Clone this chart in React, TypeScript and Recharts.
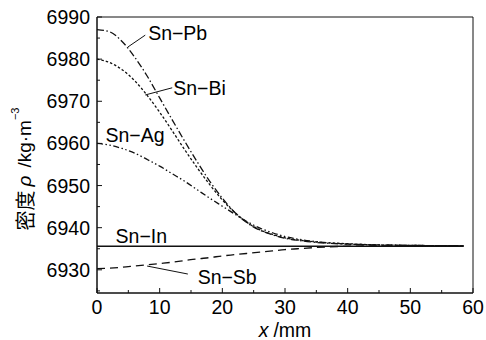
import React from 'react';
import { LineChart, Line, XAxis, YAxis, ReferenceArea, ReferenceLine, ReferenceDot } from 'recharts';

const xs = [0, 2, 4, 6, 8, 10, 12, 14, 16, 18, 20, 22, 24, 26, 28, 30, 32, 35, 40, 45, 50, 58.5];
const snPb = [6987, 6986.5, 6984.2, 6980.5, 6976, 6970.8, 6965.6, 6960.5, 6955.6, 6951, 6947, 6943.6, 6941.1, 6939.4, 6938.3, 6937.5, 6937, 6936.5, 6936.1, 6935.9, 6935.8, 6935.7];
const snBi = [6980, 6979.2, 6977.5, 6974.9, 6971.4, 6967.4, 6963, 6958.5, 6954.2, 6950.2, 6946.6, 6943.6, 6941.2, 6939.5, 6938.4, 6937.6, 6937.1, 6936.6, 6936.2, 6935.9, 6935.8, 6935.7];
const snAg = [6960, 6959.6, 6958.8, 6957.7, 6956.2, 6954.6, 6952.8, 6951, 6949, 6947, 6945.1, 6943.2, 6941.4, 6939.9, 6938.8, 6937.9, 6937.3, 6936.7, 6936.1, 6935.9, 6935.8, 6935.7];
const snIn = [6935.6, 6935.6, 6935.6, 6935.6, 6935.6, 6935.6, 6935.6, 6935.6, 6935.6, 6935.6, 6935.6, 6935.6, 6935.6, 6935.6, 6935.6, 6935.6, 6935.6, 6935.6, 6935.6, 6935.6, 6935.6, 6935.6];
const snSb = [6930.3, 6930.4, 6930.6, 6930.9, 6931.2, 6931.5, 6931.8, 6932.2, 6932.6, 6932.9, 6933.3, 6933.6, 6933.9, 6934.2, 6934.5, 6934.8, 6935, 6935.3, 6935.6, 6935.7, 6935.7, 6935.7];

const xTicks = [0, 5, 10, 15, 20, 25, 30, 35, 40, 45, 50, 55, 60];
const yTicks = [6925, 6930, 6935, 6940, 6945, 6950, 6955, 6960, 6965, 6970, 6975, 6980, 6985, 6990];

// label anchors and leader lines, in data units
const labels = [
  { text: 'Sn−Pb', x: 8.0, y: 6986.1 },
  { text: 'Sn−Bi', x: 12.0, y: 6973.2 },
  { text: 'Sn−Ag', x: 1.2, y: 6962 },
  { text: 'Sn−In', x: 2.8, y: 6937.9 },
  { text: 'Sn−Sb', x: 15.9, y: 6928.3 },
];
const leaders = [
  [{ x: 4.95, y: 6982.9 }, { x: 7.7, y: 6985.7 }],
  [{ x: 7.7, y: 6971.5 }, { x: 12, y: 6973.2 }],
  [{ x: 8, y: 6930.9 }, { x: 14.5, y: 6929.0 }],
];

const data = xs.map((x, i) => ({ x, pb: snPb[i], bi: snBi[i], ag: snAg[i], inn: snIn[i], sb: snSb[i] }));

const FONT = '"Liberation Sans", Arial, sans-serif';
const INK = '#111';
const FS = 19.5;

const XTick = (p: any) => {
  const v = p.payload.value;
  const major = v % 10 === 0;
  return (
    <g>
      <line x1={p.x} x2={p.x} y1={p.y} y2={p.y - (major ? 5 : 3)} stroke={INK} />
      {major && (
        <text x={p.x} y={p.y + 21} textAnchor="middle" fontSize={FS} fontFamily={FONT} fill="#000">
          {v}
        </text>
      )}
    </g>
  );
};

const YTick = (p: any) => {
  const v = p.payload.value;
  const major = v % 10 === 0;
  return (
    <g>
      <line x1={p.x} x2={p.x + (major ? 5 : 3)} y1={p.y} y2={p.y} stroke={INK} />
      {major && (
        <text x={p.x - 7} y={p.y + 7} textAnchor="end" fontSize={FS} fontFamily={FONT} fill="#000">
          {v}
        </text>
      )}
    </g>
  );
};

const YTitle = (p: any) => {
  const vb = p.viewBox;
  const cx = vb.x + 24;
  const cy = vb.y + vb.height / 2 + 14;
  return (
    <text transform={`translate(${cx},${cy}) rotate(-90)`} textAnchor="middle" dominantBaseline="central" fontSize={19} fontFamily={FONT} fill="#000">
      <tspan fontFamily='"Noto Sans CJK JP", sans-serif' fontSize={20}>密度</tspan>
      <tspan fontStyle="italic" dx={4}>ρ</tspan>
      <tspan dx={8}>/kg·m</tspan>
      <tspan fontSize={11} dy={-9}>−3</tspan>
    </text>
  );
};

const XTitle = (p: any) => {
  const vb = p.viewBox;
  return (
    <text x={vb.x + vb.width / 2} y={vb.y + 44} textAnchor="middle" fontSize={FS} fontFamily={FONT} fill="#000">
      <tspan fontStyle="italic">x</tspan>
      <tspan dx={5}>/mm</tspan>
    </text>
  );
};

const lineProps = { type: 'monotone' as const, stroke: INK, strokeWidth: 1.3, dot: false, isAnimationActive: false };

export default function App() {
  return (
    <div style={{ position: 'absolute', left: 0, top: 0, background: '#fff' }}>
      <LineChart width={486} height={340} data={data} margin={{ top: 17, right: 13, bottom: 0, left: 0 }}>
        <XAxis
          dataKey="x"
          type="number"
          domain={[0, 60]}
          ticks={xTicks}
          interval={0}
          tickSize={0}
          tickMargin={0}
          tickLine={false}
          tick={XTick}
          height={47}
          axisLine={{ stroke: INK }}
          label={XTitle}
        />
        <YAxis
          type="number"
          domain={[6924.5, 6990]}
          ticks={yTicks}
          interval={0}
          tickSize={0}
          tickMargin={0}
          tickLine={false}
          tick={YTick}
          width={97}
          axisLine={{ stroke: INK }}
          label={YTitle}
        />
        <ReferenceArea x1={0} x2={60} y1={6924.5} y2={6990} fill="none" stroke={INK} strokeWidth={1} />
        <Line dataKey="inn" {...lineProps} strokeWidth={1.6} />
        <Line dataKey="sb" {...lineProps} strokeDasharray="8 5" />
        <Line dataKey="ag" {...lineProps} strokeDasharray="6 2.5 1.5 2.5 1.5 2.5" />
        <Line dataKey="bi" {...lineProps} strokeDasharray="2.5 2" />
        <Line dataKey="pb" {...lineProps} strokeDasharray="7 2.5 1.5 2.5" />
        {leaders.map((seg, i) => (
          <ReferenceLine key={i} segment={seg} stroke={INK} strokeWidth={1} />
        ))}
        {labels.map((l) => (
          <ReferenceDot
            key={l.text}
            x={l.x}
            y={l.y}
            r={1}
            fill="none"
            stroke="none"
            label={{ value: l.text, position: 'right', offset: 0, fontSize: FS, fontFamily: FONT, fill: '#000' }}
          />
        ))}
      </LineChart>
    </div>
  );
}
